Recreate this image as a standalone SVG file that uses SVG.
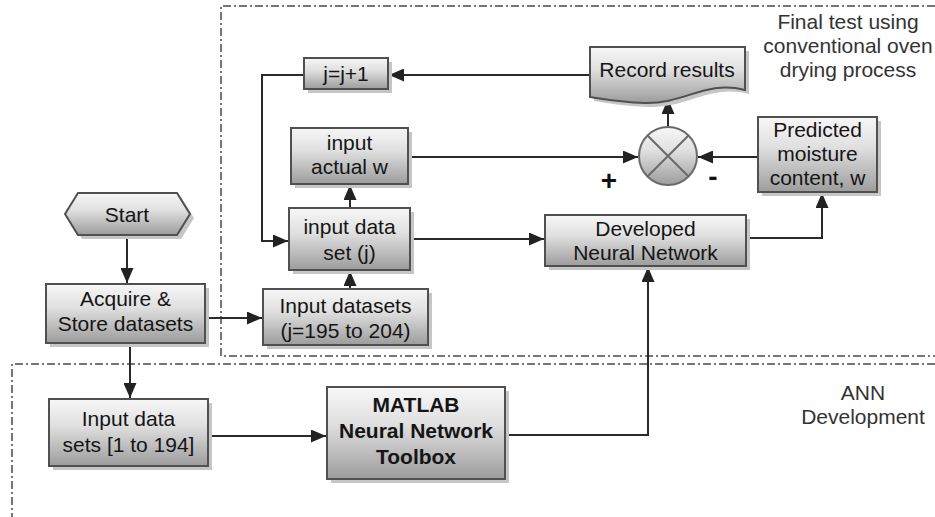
<svg xmlns="http://www.w3.org/2000/svg" width="935" height="517" viewBox="0 0 935 517">
<defs>
<linearGradient id="g" x1="0" y1="0" x2="0" y2="1">
<stop offset="0" stop-color="#f7f7f7"/>
<stop offset="0.4" stop-color="#e0e0e0"/>
<stop offset="1" stop-color="#9c9c9c"/>
</linearGradient>
<marker id="ah" markerUnits="userSpaceOnUse" markerWidth="15" markerHeight="13" viewBox="0 0 15 13" refX="15" refY="6.5" orient="auto">
<path d="M0,0 L15,6.5 L0,13 Z" fill="#222"/>
</marker>
<style>
.box{fill:url(#g);stroke:#505050;stroke-width:2}
.sh{fill:#c6c6c6}
.t{font-family:"Liberation Sans",Arial,sans-serif;font-size:21px;fill:#151515;text-anchor:middle}
.b{font-weight:bold}
.lbl{font-family:"Liberation Sans",Arial,sans-serif;font-size:21px;fill:#333;text-anchor:middle}
.c{fill:none;stroke:#2a2a2a;stroke-width:2}
.a{marker-end:url(#ah)}
.region{fill:none;stroke:#4a4a4a;stroke-width:1.5;stroke-dasharray:8 3 2 3}
</style>
</defs>
<rect width="935" height="517" fill="#fff"/>
<g id="regions">
<path class="region" d="M935,6 H221 V356 H935"/>
<path class="region" d="M935,364 H12 V517"/>
<text class="lbl" x="848" y="29">Final test using</text>
<text class="lbl" x="848" y="53">conventional oven</text>
<text class="lbl" x="848" y="77">drying process</text>
<text class="lbl" x="863" y="400">ANN</text>
<text class="lbl" x="863" y="424">Development</text>
</g>
<g id="connectors">
<path class="c a" d="M127,235 V283"/>
<path class="c a" d="M205,318 H262"/>
<path class="c a" d="M130,343 V398"/>
<path class="c a" d="M208,436 H326"/>
<path class="c a" d="M505,435 H648 V267"/>
<path class="c a" d="M350,289 V271"/>
<path class="c a" d="M350,208 V185"/>
<path class="c a" d="M410,239 H544"/>
<path class="c a" d="M746,238 H822 V193"/>
<path class="c a" d="M758,157 H698"/>
<path class="c a" d="M408,157 H638"/>
<path class="c a" d="M668,127 V99"/>
<path class="c a" d="M590,75 H389"/>
<path class="c a" d="M304,75 H262 V241 H288"/>
<text x="609" y="190" font-family="Liberation Sans,Arial,sans-serif" font-size="28" font-weight="bold" fill="#111" text-anchor="middle">+</text>
<text x="713" y="186" font-family="Liberation Sans,Arial,sans-serif" font-size="28" font-weight="bold" fill="#111" text-anchor="middle">-</text>
</g>
<g id="start">
<polygon class="sh" points="69,218 82,197 181,197 194,218 181,239 82,239"/>
<polygon class="box" points="65,214 78,193 177,193 190,214 177,235 78,235"/>
<text class="t" x="127" y="222">Start</text>
</g>
<g id="acquire">
<rect class="sh" x="50" y="288" width="159" height="59"/>
<rect class="box" x="46" y="284" width="159" height="59"/>
<text class="t" x="125.5" y="306">Acquire &amp;</text>
<text class="t" x="125.5" y="331">Store datasets</text>
</g>
<g id="input-datasets-test">
<rect class="sh" x="267" y="293" width="165" height="56"/>
<rect class="box" x="263" y="289" width="165" height="56"/>
<text class="t" x="345.5" y="313">Input datasets</text>
<text class="t" x="345.5" y="338">(j=195 to 204)</text>
</g>
<g id="input-data-set-j">
<rect class="sh" x="293" y="212" width="121" height="62"/>
<rect class="box" x="289" y="208" width="121" height="62"/>
<text class="t" x="349.5" y="234">input data</text>
<text class="t" x="349.5" y="260">set (j)</text>
</g>
<g id="input-actual-w">
<rect class="sh" x="295" y="132" width="117" height="56"/>
<rect class="box" x="291" y="128" width="117" height="56"/>
<text class="t" x="349.5" y="150">input</text>
<text class="t" x="349.5" y="174">actual w</text>
</g>
<g id="j-increment">
<rect class="sh" x="308" y="62" width="84" height="31"/>
<rect class="box" x="304" y="58" width="84" height="31"/>
<text class="t" x="346" y="81">j=j+1</text>
</g>
<g id="record-results">
<path class="sh" transform="translate(4,4)" d="M590,47 H745 V90 C705,80 685,104 645,103 C620,102 603,99 590,97 Z"/>
<path class="box" d="M590,47 H745 V90 C705,80 685,104 645,103 C620,102 603,99 590,97 Z"/>
<text class="t" x="667" y="77">Record results</text>
</g>
<g id="summing-junction">
<circle cx="668" cy="156" r="29" fill="url(#g)" stroke="#6a6a6a" stroke-width="2"/>
<path d="M647.5,135.5 L688.5,176.5 M688.5,135.5 L647.5,176.5" stroke="#6a6a6a" stroke-width="2"/>
</g>
<g id="predicted">
<rect class="sh" x="762" y="121" width="119" height="75"/>
<rect class="box" x="758" y="117" width="119" height="75"/>
<text class="t" x="817.5" y="137">Predicted</text>
<text class="t" x="817.5" y="161">moisture</text>
<text class="t" x="817.5" y="185">content, w</text>
</g>
<g id="developed-nn">
<rect class="sh" x="549" y="219" width="201" height="51"/>
<rect class="box" x="545" y="215" width="201" height="51"/>
<text class="t" x="645.5" y="236">Developed</text>
<text class="t" x="645.5" y="260">Neural Network</text>
</g>
<g id="input-data-train">
<rect class="sh" x="53" y="403" width="159" height="67"/>
<rect class="box" x="49" y="399" width="159" height="67"/>
<text class="t" x="128.5" y="426">Input data</text>
<text class="t" x="128.5" y="452">sets [1 to 194]</text>
</g>
<g id="matlab">
<rect class="sh" x="331" y="391" width="178" height="92"/>
<rect class="box" x="327" y="387" width="178" height="92"/>
<text class="t b" x="416" y="412">MATLAB</text>
<text class="t b" x="416" y="438">Neural Network</text>
<text class="t b" x="416" y="464">Toolbox</text>
</g>
</svg>
